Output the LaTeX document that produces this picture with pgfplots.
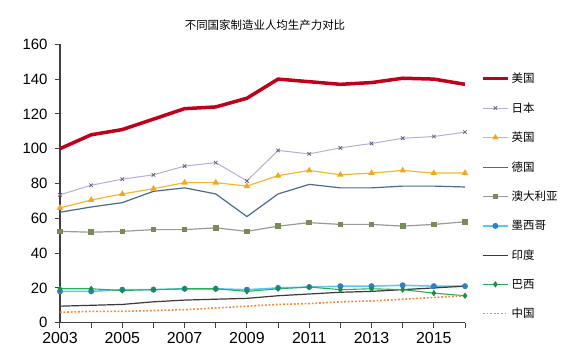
\documentclass[border=0pt]{standalone}
\usepackage{fontspec}
\setmainfont{Liberation Sans}
\newfontfamily\cjk{Noto Sans CJK SC}
\usepackage{pgfplots}
\pgfplotsset{compat=1.18}
\definecolor{cUS}{HTML}{C0001A}
\definecolor{cJP}{HTML}{B8ACD6}
\definecolor{cJPm}{HTML}{6A6080}
\definecolor{cUK}{HTML}{F5B82E}
\definecolor{cUKm}{HTML}{F0A820}
\definecolor{cDE}{HTML}{4A6A8E}
\definecolor{cAU}{HTML}{9A9A9A}
\definecolor{cAUm}{HTML}{7A8A5A}
\definecolor{cMX}{HTML}{5AC8F0}
\definecolor{cMXm}{HTML}{2F80C8}
\definecolor{cIN}{HTML}{3A3A3A}
\definecolor{cBR}{HTML}{2AAE5E}
\definecolor{cBRm}{HTML}{1E8C46}
\definecolor{cCN}{HTML}{F08A3A}
\definecolor{axc}{HTML}{404040}
\begin{document}
\begin{tikzpicture}[x=1bp,y=1bp]
\useasboundingbox (-60,-39.3) rectangle (507,322.7);
\begin{axis}[
  at={(0,0)}, anchor=south west,
  scale only axis, width=405bp, height=278.4bp,
  xmin=2003, xmax=2016, ymin=0, ymax=160,
  axis x line=bottom, axis y line=left,
  axis line style={-, axc, line width=1.3bp},
  xtick={2003,2005,...,2015}, minor xtick={2004,2006,...,2016},
  ytick={0,20,...,160},
  tick style={axc, line width=1bp},
  major tick length=5bp, minor tick length=5bp,
  tick align=outside,
  xticklabel style={/pgf/number format/1000 sep={}, font=\fontsize{16}{19}\selectfont, yshift=-1bp},
  yticklabel style={font=\fontsize{15}{18}\selectfont, xshift=-4bp},
  /pgf/number format/assume math mode=true,
  tick label style={text=black},
  legend cell align=left,
  legend style={draw=none, fill=none, at={(axis description cs:1.032,0.912)}, anchor=north west,
    font=\cjk\fontsize{11.5}{13}\selectfont, row sep=14.4bp},
  legend image code/.code={\draw[mark repeat=2,mark phase=2] plot coordinates {(0bp,0bp)(12.5bp,0bp)(25bp,0bp)};},
]
\addplot[cUS, line width=3.5bp, mark=none] coordinates {
(2003,100)(2004,108)(2005,111)(2006,117)(2007,123)(2008,124)(2009,129)(2010,140)(2011,138.5)(2012,137)(2013,138)(2014,140.5)(2015,140)(2016,137)};
\addlegendentry{美国}
\addplot[cJP, line width=1bp, mark=x, mark size=2.5bp, mark options={cJPm, line width=0.8bp}] coordinates {
(2003,73.5)(2004,79)(2005,82.5)(2006,85)(2007,90)(2008,92)(2009,81.5)(2010,99)(2011,97)(2012,100.5)(2013,103)(2014,106)(2015,107)(2016,109.5)};
\addlegendentry{日本}
\addplot[cUK, line width=1.2bp, mark=triangle*, mark size=2.6bp, mark options={fill=cUKm, draw=cUKm}] coordinates {
(2003,66)(2004,70.5)(2005,74)(2006,77)(2007,80.5)(2008,80.5)(2009,78.5)(2010,84.5)(2011,87.5)(2012,85)(2013,86)(2014,87.5)(2015,86)(2016,86)};
\addlegendentry{英国}
\addplot[cDE, line width=1.2bp, mark=none] coordinates {
(2003,63.5)(2004,66.5)(2005,69)(2006,75.5)(2007,77.5)(2008,74)(2009,61)(2010,74)(2011,79.5)(2012,77.5)(2013,77.5)(2014,78.5)(2015,78.5)(2016,78)};
\addlegendentry{德国}
\addplot[cAU, line width=1.2bp, mark=square*, mark size=2.2bp, mark options={fill=cAUm, draw=cAUm}] coordinates {
(2003,52.5)(2004,52)(2005,52.5)(2006,53.5)(2007,53.5)(2008,54.5)(2009,52.5)(2010,55.5)(2011,57.5)(2012,56.5)(2013,56.5)(2014,55.5)(2015,56.5)(2016,58)};
\addlegendentry{澳大利亚}
\addplot[cMX, line width=1.5bp, mark=*, mark size=2.2bp, mark options={fill=cMXm, draw=cMXm}] coordinates {
(2003,18)(2004,18)(2005,19)(2006,19)(2007,19.5)(2008,19.5)(2009,19)(2010,20)(2011,20.5)(2012,21)(2013,21)(2014,21.5)(2015,21)(2016,21)};
\addlegendentry{墨西哥}
\addplot[cIN, line width=1.2bp, mark=none] coordinates {
(2003,9.5)(2004,10)(2005,10.5)(2006,12)(2007,13)(2008,13.5)(2009,14)(2010,15.5)(2011,16.5)(2012,17.5)(2013,18)(2014,19)(2015,20)(2016,21)};
\addlegendentry{印度}
\addplot[cBR, line width=1.1bp, mark=diamond*, mark size=2.3bp, mark options={fill=cBRm, draw=cBRm}] coordinates {
(2003,19.5)(2004,19.5)(2005,18.5)(2006,19)(2007,19.5)(2008,19.5)(2009,18)(2010,19.5)(2011,20.5)(2012,19)(2013,19.5)(2014,19)(2015,17)(2016,15.5)};
\addlegendentry{巴西}
\addplot[cCN, line width=1.6bp, dash pattern=on 1.8bp off 1.8bp, mark=none] coordinates {
(2003,6)(2004,6.5)(2005,6.5)(2006,7)(2007,7.5)(2008,8.5)(2009,9.5)(2010,10.5)(2011,11)(2012,12)(2013,12.5)(2014,13.5)(2015,14.5)(2016,15.5)};
\addlegendentry{中国}
\end{axis}
\node[font=\cjk\fontsize{11.5}{14}\selectfont, anchor=center] at (205,298) {不同国家制造业人均生产力对比};
\end{tikzpicture}
\end{document}
